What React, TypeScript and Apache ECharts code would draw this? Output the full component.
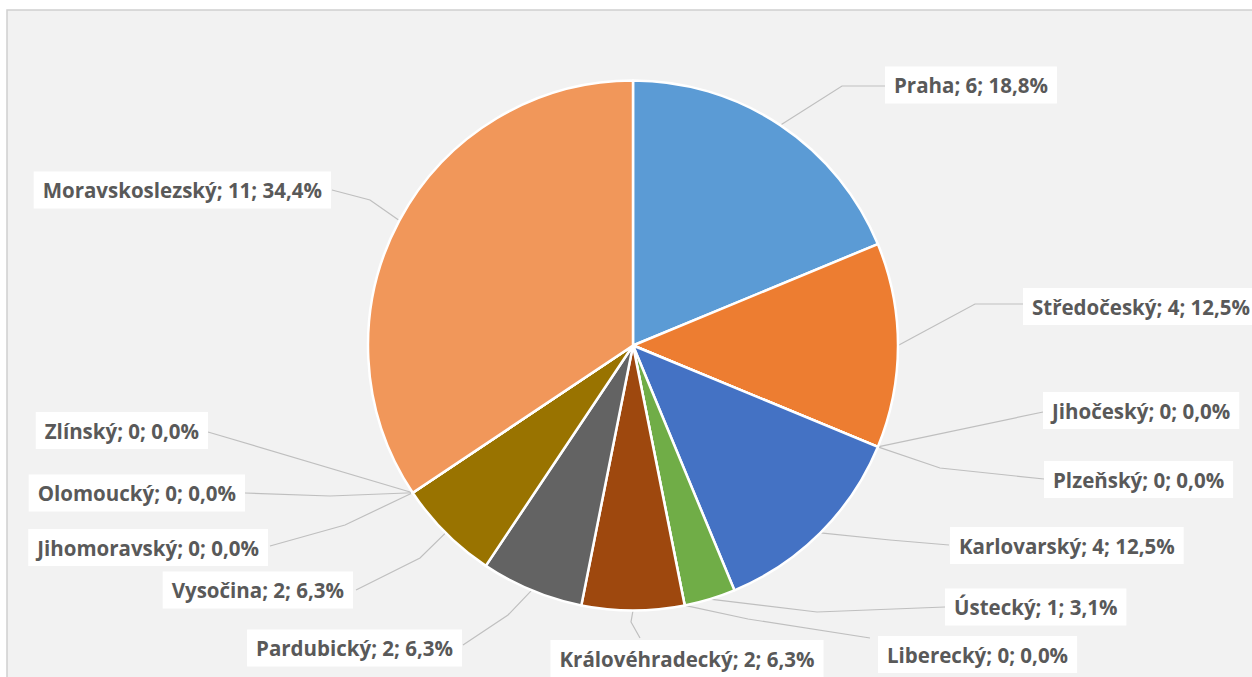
import React, { useEffect, useRef } from "react";
import * as echarts from "echarts";

const categories = [
  "Praha",
  "Středočeský",
  "Jihočeský",
  "Plzeňský",
  "Karlovarský",
  "Ústecký",
  "Liberecký",
  "Královéhradecký",
  "Pardubický",
  "Vysočina",
  "Jihomoravský",
  "Olomoucký",
  "Zlínský",
  "Moravskoslezský",
];
const counts = [6, 4, 0, 0, 4, 1, 0, 2, 2, 2, 0, 0, 0, 11];
const colors = [
  "#5B9BD5",
  "#ED7D31",
  "#A5A5A5",
  "#FFC000",
  "#4472C4",
  "#70AD47",
  "#255E91",
  "#9E480E",
  "#636363",
  "#997300",
  "#264478",
  "#43682B",
  "#698ED0",
  "#F1975A",
];

// Label box placement (layout only): anchor x/y, alignment, leader-line bend/end points
type LabelPlace = { x: number; y: number; align: "left" | "right" | "center"; pts: number[][] };
const labelPlaces: LabelPlace[] = [
  { x: 885, y: 85, align: "left", pts: [[842, 86], [885, 86]] },
  { x: 1023, y: 306.5, align: "left", pts: [[975, 304], [1023, 304]] },
  { x: 1043, y: 410.5, align: "left", pts: [[1043, 412]] },
  { x: 1044, y: 479.5, align: "left", pts: [[940, 468], [1044, 479]] },
  { x: 950, y: 545.5, align: "left", pts: [[890, 540], [949, 545]] },
  { x: 945, y: 607, align: "left", pts: [[817, 612], [945, 607]] },
  { x: 878, y: 654.5, align: "left", pts: [[748, 619], [870, 638]] },
  { x: 687, y: 658.5, align: "center", pts: [[631, 622], [640, 638]] },
  { x: 462, y: 648, align: "right", pts: [[508, 615], [463, 645]] },
  { x: 353, y: 590, align: "right", pts: [[420, 558], [356, 590]] },
  { x: 268, y: 547.5, align: "right", pts: [[345, 525], [270, 546]] },
  { x: 245, y: 493, align: "right", pts: [[330, 496], [245, 493]] },
  { x: 208, y: 430.5, align: "right", pts: [[208, 432]] },
  { x: 331, y: 190, align: "right", pts: [[370, 200], [332, 190]] },
];

const total = counts.reduce((a, b) => a + b, 0);

export default function App() {
  const ref = useRef<HTMLDivElement>(null);
  useEffect(() => {
    document.body.style.margin = "0";
    if (!ref.current) return;
    const chart = echarts.init(ref.current, undefined, { renderer: "svg" });
    chart.setOption({
      animation: false,
      graphic: [
        {
          type: "rect",
          z: -10,
          silent: true,
          shape: { x: 7, y: 10, width: 1300, height: 720 },
          style: { fill: "#F2F2F2", stroke: "#D0D0D0", lineWidth: 1.5 },
        },
      ],
      series: [
        {
          type: "pie",
          center: [633, 345.5],
          radius: 265,
          startAngle: 90,
          clockwise: true,
          avoidLabelOverlap: false,
          emphasis: { disabled: true },
          itemStyle: { borderColor: "#FFFFFF", borderWidth: 2.5 },
          label: {
            show: true,
            position: "outside",
            formatter: (p: any) =>
              `${p.name}; ${p.value}; ${((p.value / total) * 100).toFixed(1).replace(".", ",")}%`,
            color: "#595959",
            fontFamily: "Open Sans",
            fontWeight: "bold",
            fontSize: 20.5,
            lineHeight: 21,
            backgroundColor: "#FFFFFF",
            padding: [8, 9, 8, 9],
          },
          labelLine: {
            show: true,
            length: 10,
            length2: 10,
            lineStyle: { color: "#BFBFBF", width: 1.2 },
          },
          labelLayout: (params: any) => {
            const place = labelPlaces[params.dataIndex];
            if (!place) return {};
            const start = params.labelLinePoints ? params.labelLinePoints[0] : null;
            const pts = start ? [start, ...place.pts] : undefined;
            return {
              x: place.x,
              y: place.y,
              align: place.align,
              verticalAlign: "middle",
              labelLinePoints: pts,
            };
          },
          data: categories.map((name, i) => ({
            name,
            value: counts[i],
            itemStyle: { color: colors[i] },
          })),
        },
      ],
    });
    return () => chart.dispose();
  }, []);
  return <div ref={ref} style={{ width: 1252, height: 677 }} />;
}
